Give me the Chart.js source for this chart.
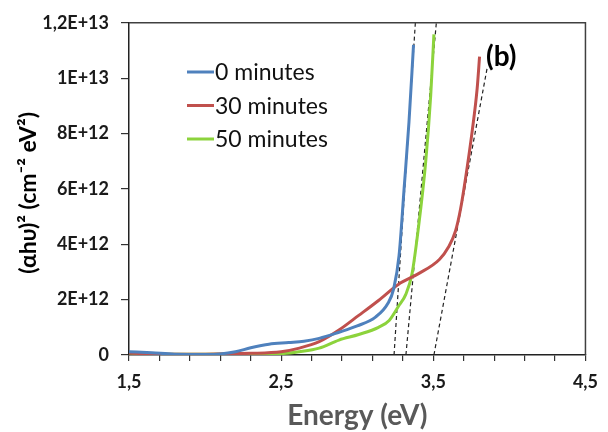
<!DOCTYPE html>
<html>
<head>
<meta charset="utf-8">
<script src="https://cdn.jsdelivr.net/npm/chart.js@4"></script>
<style>
  html, body { margin: 0; padding: 0; background: #fff; }
  #wrap { width: 608px; height: 432px; }
</style>
</head>
<body>
<div id="wrap"><canvas id="chart" width="608" height="432"></canvas></div>
<script>
// Tauc plot data, y in units of 1E+12 (cm-2 eV2)
const seriesNames = ['0 minutes', '30 minutes', '50 minutes'];
const seriesColors = ['#4F81BD', '#C0504D', '#8CD33C'];

const energy0 = [1.5, 1.65, 1.8, 2.0, 2.1, 2.2, 2.3, 2.42, 2.55, 2.65, 2.75, 2.88, 3.0, 3.12, 3.2, 3.24, 3.275, 3.308, 3.34, 3.37];
const values0 = [0.12, 0.08, 0.03, 0.02, 0.04, 0.12, 0.26, 0.39, 0.45, 0.5, 0.6, 0.82, 1.05, 1.37, 1.85, 2.4, 3.6, 6.0, 8.4, 11.2];

const energy30 = [1.5, 1.7, 2.0, 2.3, 2.5, 2.62, 2.75, 2.88, 3.01, 3.14, 3.27, 3.4, 3.54, 3.6, 3.646, 3.68, 3.712, 3.755, 3.788, 3.804];
const values30 = [0.07, 0.03, 0.03, 0.06, 0.12, 0.25, 0.48, 0.9, 1.43, 1.97, 2.55, 2.93, 3.45, 3.9, 4.48, 5.3, 6.39, 8.06, 9.61, 10.78];

const energy50 = [1.5, 1.7, 2.0, 2.3, 2.5, 2.62, 2.75, 2.88, 3.01, 3.14, 3.21, 3.27, 3.32, 3.36, 3.4, 3.45, 3.483, 3.504];
const values50 = [0.07, 0.03, 0.03, 0.04, 0.05, 0.12, 0.25, 0.54, 0.74, 1.0, 1.25, 1.75, 2.2, 2.93, 4.5, 6.98, 9.38, 11.58];

// dashed tangent lines (band gap extrapolation)
const fitEnergy0 = [3.242, 3.382];
const fitEnergy30 = [3.504, 3.855];
const fitEnergy50 = [3.32, 3.52];
const fitValues0 = [0, 12];
const fitValues30 = [0, 10.4];
const fitValues50 = [0, 12];

const xTickLabels = ['1,5', '2,5', '3,5', '4,5'];
const yTickLabels = ['0', '2E+12', '4E+12', '6E+12', '8E+12', '1E+13', '1,2E+13'];

function toPoints(xs, ys) {
  return xs.map((x, i) => ({ x: x, y: ys[i] }));
}

const curves = [[energy0, values0], [energy30, values30], [energy50, values50]].map((s, i) => ({
  label: seriesNames[i],
  data: toPoints(s[0], s[1]),
  borderColor: seriesColors[i],
  borderWidth: 3,
  pointRadius: 0,
  cubicInterpolationMode: 'monotone',
  fill: false
}));

const fits = [[fitEnergy0, fitValues0], [fitEnergy30, fitValues30], [fitEnergy50, fitValues50]].map(s => ({
  label: '',
  data: toPoints(s[0], s[1]),
  borderColor: '#222',
  borderWidth: 1.2,
  borderDash: [4, 3],
  pointRadius: 0,
  fill: false
}));

// box, titles, legend and panel letter
const decorations = {
  id: 'decorations',
  afterDraw(chart) {
    const { ctx, chartArea: a } = chart;
    ctx.save();
    // top and right border of the plot box
    ctx.strokeStyle = '#404040';
    ctx.lineWidth = 1.5;
    ctx.beginPath();
    ctx.moveTo(a.left, a.top);
    ctx.lineTo(a.right, a.top);
    ctx.lineTo(a.right, a.bottom);
    ctx.stroke();

    // legend
    ctx.font = '23px Lato, sans-serif';
    ctx.textBaseline = 'middle';
    ctx.textAlign = 'left';
    seriesNames.forEach((name, i) => {
      const y = 72 + i * 33.5;
      ctx.strokeStyle = seriesColors[i];
      ctx.lineWidth = 3;
      ctx.beginPath();
      ctx.moveTo(187, y);
      ctx.lineTo(214, y);
      ctx.stroke();
      ctx.fillStyle = '#111';
      ctx.fillText(name, 215, y + 1);
    });

    // (b)
    ctx.font = 'bold 28px Lato, sans-serif';
    ctx.fillStyle = '#000';
    ctx.fillText('(b)', 486, 57);

    // x title
    ctx.font = 'bold 28px Lato, sans-serif';
    ctx.fillStyle = '#595959';
    ctx.textAlign = 'center';
    ctx.textBaseline = 'alphabetic';
    ctx.fillText('Energy (eV)', (a.left + a.right) / 2, 425);

    // y title
    ctx.translate(36, (a.top + a.bottom) / 2 + 4);
    ctx.rotate(-Math.PI / 2);
    ctx.fillStyle = '#000';
    ctx.font = 'bold 23px Lato, sans-serif';
    ctx.fillText('(\u03B1h\u03C5)\u00B2 (cm\u207B\u00B2 eV\u00B2)', 0, 0);
    ctx.restore();
  }
};

new Chart(document.getElementById('chart'), {
  type: 'line',
  data: { datasets: curves.concat(fits) },
  options: {
    responsive: false,
    animation: false,
    layout: { padding: { top: 19, right: 21, left: 0, bottom: 0 } },
    plugins: { legend: { display: false }, tooltip: { enabled: false } },
    scales: {
      x: {
        type: 'linear',
        min: 1.5,
        max: 4.5,
        afterFit(scale) { scale.height = 77; },
        ticks: {
          stepSize: 0.2,
          autoSkip: false,
          maxRotation: 0,
          padding: 10,
          color: '#1a1a1a',
          font: { family: 'Lato', size: 18, weight: 'bold' },
          callback(v) {
            const k = Math.round(v - 1.5);
            return Math.abs(v - 1.5 - k) < 1e-6 ? xTickLabels[k] : '';
          }
        },
        grid: { drawOnChartArea: false, drawTicks: true, tickLength: 6, color: '#333', lineWidth: 1.2 },
        border: { display: true, color: '#222', width: 1.5 }
      },
      y: {
        min: 0,
        max: 12,
        afterFit(scale) { scale.width = 129; },
        ticks: {
          stepSize: 2,
          padding: 12,
          color: '#1a1a1a',
          font: { family: 'Lato', size: 18, weight: 'bold' },
          callback(v) { return yTickLabels[Math.round(v / 2)]; }
        },
        grid: { drawOnChartArea: false, drawTicks: true, tickLength: 8, color: '#333', lineWidth: 1.2 },
        border: { display: true, color: '#222', width: 1.5 }
      }
    }
  },
  plugins: [decorations]
});
</script>
</body>
</html>
